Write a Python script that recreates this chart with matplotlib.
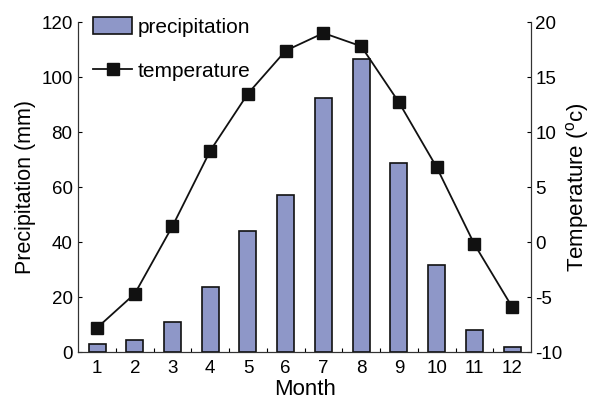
import numpy as np
import matplotlib
matplotlib.use("Agg")
import matplotlib.pyplot as plt

plt.rcParams['font.family'] = ['Liberation Sans', 'DejaVu Sans']
plt.rcParams['mathtext.fontset'] = 'custom'
plt.rcParams['mathtext.rm'] = 'Liberation Sans'
plt.rcParams['axes.unicode_minus'] = False

months = [1, 2, 3, 4, 5, 6, 7, 8, 9, 10, 11, 12]
precipitation = [3, 4.4, 11, 23.6, 44, 57, 92.4, 106.5, 68.7, 31.6, 8, 1.8]
temperature = [-7.8, -4.7, 1.45, 8.3, 13.5, 17.4, 19.0, 17.8, 12.7, 6.8, -0.2, -5.9]

fig = plt.figure(figsize=(5.92, 4.01), dpi=100)
ax = fig.add_axes([0.132, 0.122, 0.765, 0.823])
ax2 = ax.twinx()

bars = ax.bar(months, precipitation, width=0.45, color='#8e97c8',
              edgecolor='#111111', linewidth=1.2, label='precipitation', zorder=2)
line, = ax2.plot(months, temperature, color='#111111', linewidth=1.3,
                 marker='s', markersize=8.5, label='temperature')

ax.set_xlim(0.5, 12.5)
ax.set_ylim(0, 120)
ax2.set_ylim(-10, 20)
ax.set_xticks(months)
ax.set_xticks(np.arange(1.5, 12, 1), minor=True)
ax.set_yticks(range(0, 121, 20))
ax2.set_yticks(range(-10, 21, 5))

ax.tick_params(axis='x', which='major', length=0, labelsize=13.5, pad=6)
ax.tick_params(axis='x', which='minor', direction='in', length=3, width=0.8)
ax.tick_params(axis='y', direction='in', length=3, width=0.8, labelsize=13.5, pad=4)
ax2.tick_params(axis='y', direction='in', length=3, width=0.8, labelsize=13.5, pad=3)

for a in (ax, ax2):
    a.spines['top'].set_visible(False)
    for s in ('left', 'right', 'bottom'):
        a.spines[s].set_linewidth(0.8)
        a.spines[s].set_color('#333333')

ax.set_xlabel('Month', fontsize=16, labelpad=1)
ax.set_ylabel('Precipitation (mm)', fontsize=15.5, labelpad=4)
ax2.set_ylabel(r'Temperature ($^{\mathrm{o}}$c)', fontsize=16, labelpad=1)

ax.legend([bars, line], ['precipitation', 'temperature'], loc='upper left',
          frameon=False, fontsize=15, handlelength=1.85, handleheight=0.9,
          handletextpad=0.3, labelspacing=1.15, borderaxespad=0.0,
          bbox_to_anchor=(0.015, 1.04))

fig.savefig('out.png', dpi=100)
